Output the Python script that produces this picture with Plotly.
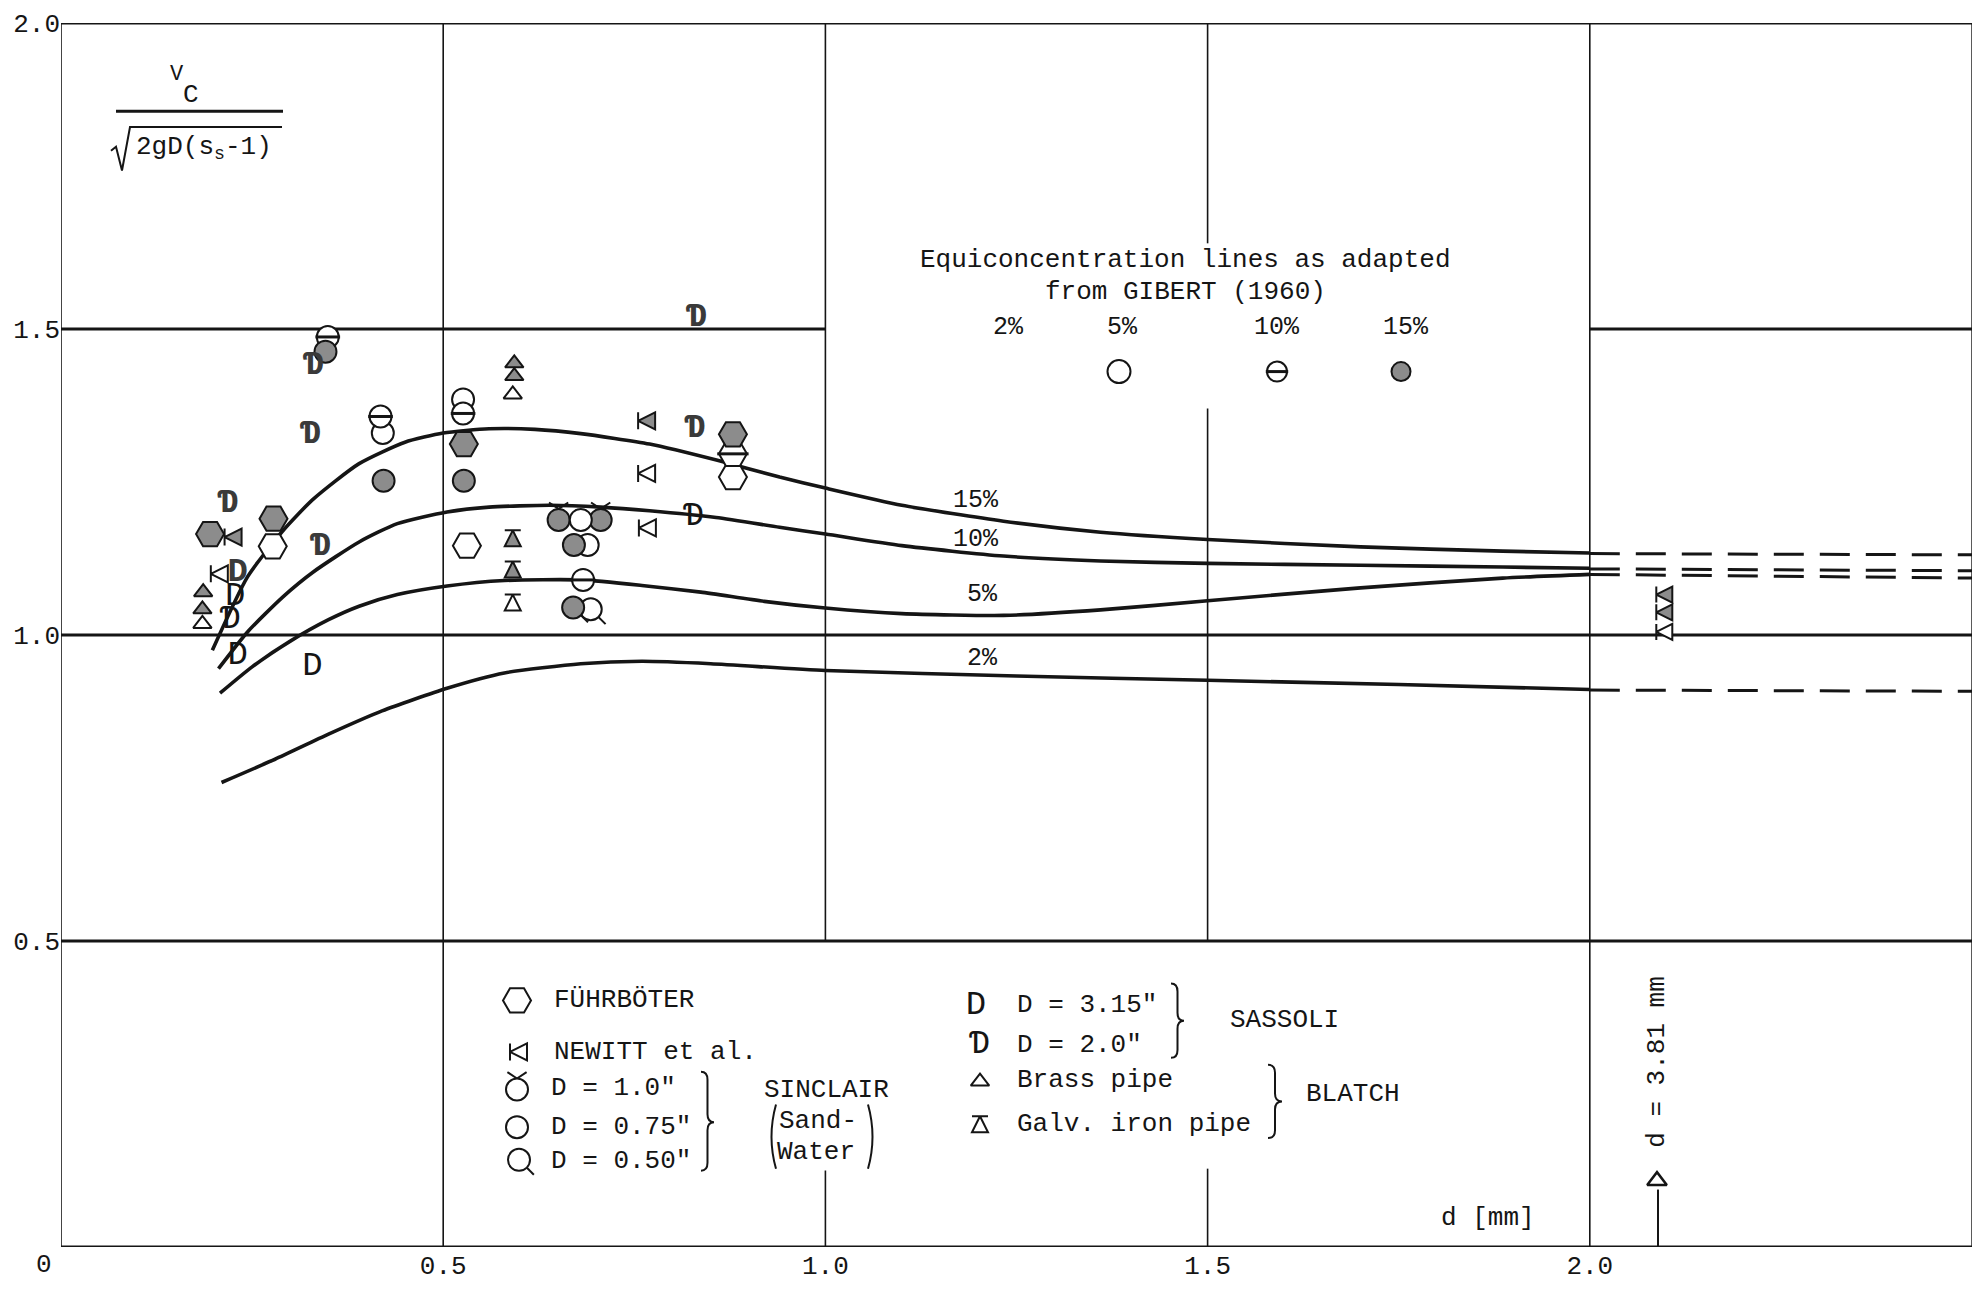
import plotly.graph_objects as go

# ---------------- data ----------------
# Equiconcentration curves (adapted from GIBERT 1960): d [mm] vs Vc/sqrt(2gD(s_s-1))
d_2 = [0.21, 0.28, 0.35, 0.42, 0.505, 0.58, 0.68, 0.76, 0.85, 1.0, 1.25, 1.5, 1.75, 2.0]
v_2 = [0.759, 0.797, 0.838, 0.876, 0.913, 0.938, 0.953, 0.957, 0.953, 0.942, 0.933, 0.926, 0.919, 0.911]
d_5 = [0.208, 0.25, 0.3, 0.35, 0.39, 0.44, 0.505, 0.58, 0.68, 0.76, 0.837, 0.92, 1.0, 1.1, 1.233, 1.36, 1.5, 1.7, 1.886, 2.0]
v_5 = [0.905, 0.948, 0.99, 1.025, 1.047, 1.066, 1.08, 1.089, 1.09, 1.081, 1.07, 1.055, 1.044, 1.035, 1.032, 1.041, 1.056, 1.077, 1.093, 1.099]
d_10 = [0.206, 0.244, 0.29, 0.33, 0.39, 0.44, 0.505, 0.56, 0.64, 0.706, 0.77, 0.857, 0.94, 1.0, 1.1, 1.233, 1.36, 1.5, 1.7, 1.886, 2.0]
v_10 = [0.945, 1.005, 1.062, 1.103, 1.152, 1.182, 1.201, 1.209, 1.212, 1.209, 1.203, 1.192, 1.176, 1.165, 1.146, 1.129, 1.121, 1.117, 1.114, 1.111, 1.109]
d_15 = [0.198, 0.244, 0.29, 0.33, 0.39, 0.45, 0.5, 0.56, 0.62, 0.68, 0.77, 0.86, 0.94, 1.0, 1.1, 1.233, 1.36, 1.5, 1.7, 1.886, 2.0]
v_15 = [0.975, 1.095, 1.17, 1.222, 1.28, 1.315, 1.33, 1.337, 1.336, 1.329, 1.312, 1.285, 1.258, 1.24, 1.212, 1.186, 1.168, 1.156, 1.144, 1.137, 1.134]
# dashed extrapolation beyond d = 2.0 mm
d_ext = [2.0, 2.5]
v_ext_2 = [0.910, 0.908]
v_ext_5 = [1.099, 1.093]
v_ext_10 = [1.108, 1.105]
v_ext_15 = [1.133, 1.131]
curve_labels = ["2%", "5%", "10%", "15%"]

# Data points: d [mm], V ratio, concentration class (5, 10, 15 %)
fuhr_d = [0.195, 0.278, 0.277, 0.527, 0.531, 0.879, 0.879, 0.879]
fuhr_v = [1.165, 1.19, 1.145, 1.312, 1.146, 1.328, 1.296, 1.258]
fuhr_c = [15, 15, 5, 15, 5, 15, 10, 5]

newitt_d = [0.214, 0.196, 0.755, 0.755, 0.756]
newitt_v = [1.16, 1.10, 1.35, 1.264, 1.175]
newitt_c = [15, 5, 15, 5, 5]

sinc100_d = [0.651, 0.706]
sinc100_v = [1.188, 1.188]
sinc100_c = [15, 15]

sinc075_d = [0.349, 0.346, 0.418, 0.421, 0.422, 0.526, 0.526, 0.527, 0.68, 0.671, 0.689, 0.683]
sinc075_v = [1.487, 1.463, 1.357, 1.33, 1.252, 1.385, 1.362, 1.252, 1.188, 1.147, 1.147, 1.09]
sinc075_c = [10, 15, 10, 5, 15, 5, 10, 15, 5, 15, 5, 10]

sinc050_d = [0.67, 0.693]
sinc050_v = [1.045, 1.042]
sinc050_c = [15, 5]

sass315_d = [0.231, 0.228, 0.231, 0.329]
sass315_v = [1.102, 1.063, 0.966, 0.948]
sass315_c = [15, 5, 5, 5]

sass200_d = [0.218, 0.222, 0.33, 0.326, 0.339, 0.831, 0.829, 0.828]
sass200_v = [1.215, 1.026, 1.44, 1.328, 1.144, 1.519, 1.338, 1.193]
sass200_c = [15, 5, 15, 15, 15, 15, 15, 5]

brass_d = [0.186, 0.185, 0.185, 0.593, 0.593, 0.591]
brass_v = [1.07, 1.042, 1.018, 1.444, 1.423, 1.393]
brass_c = [15, 15, 5, 15, 15, 5]

galv_d = [0.591, 0.591, 0.591]
galv_v = [1.171, 1.12, 1.066]
galv_c = [15, 15, 5]

# Blatch galv. iron pipe, d = 3.81 mm (drawn just right of 2.0)
galv381_d = [2.087, 2.087, 2.087]
galv381_v = [1.066, 1.037, 1.005]
galv381_c = [15, 15, 5]

x_ticks = [0.5, 1.0, 1.5, 2.0]
x_ticktext = ["0.5", "1.0", "1.5", "2.0"]
y_ticks = [0.5, 1.0, 1.5, 2.0]
y_ticktext = ["0.5", "1.0", "1.5", "2.0"]

# ---------------- layout geometry ----------------
W, H = 1982, 1292
ML, MR, MT, MB = 61, 10, 18, 38
XR = (0.0, 2.5)
YR = (0.0, 2.0)
PW = W - ML - MR
PH = H - MT - MB
FONT = "Liberation Mono, DejaVu Sans Mono, monospace"
INK = "#151515"
FILL15 = "#8c8c8c"


def px(X):
    return (X - ML) / PW


def py(Y):
    return (H - MB - Y) / PH


def dx(X):
    return XR[0] + (X - ML) / PW * (XR[1] - XR[0])


def dy(Y):
    return YR[0] + (H - MB - Y) / PH * (YR[1] - YR[0])


fig = go.Figure()
shapes = []
annotations = []

# ---------------- grid / frame ----------------
def seg(x0, y0, x1, y1, w):
    shapes.append(dict(type="line", xref="x", yref="y", x0=x0, y0=y0, x1=x1, y1=y1,
                       line=dict(color=INK, width=w), layer="below"))

seg(0, 2.0, 2.5, 2.0, 3)
seg(0, 0.0, 2.5, 0.0, 3)
seg(0, 1.0, 2.5, 1.0, 3)
seg(0, 0.5, 2.5, 0.5, 3)
seg(0, 1.5, 1.0, 1.5, 3)
seg(2.0, 1.5, 2.5, 1.5, 3)
seg(0, 0, 0, 2.0, 1.6)
seg(0.5, 0, 0.5, 2.0, 1.6)
seg(1.0, 0.5, 1.0, 2.0, 1.6)
seg(1.0, 0.0, 1.0, 0.125, 1.6)
seg(1.5, 1.64, 1.5, 2.0, 1.6)
seg(1.5, 0.5, 1.5, 1.37, 1.6)
seg(1.5, 0.0, 1.5, 0.128, 1.6)
seg(2.0, 0, 2.0, 2.0, 1.6)
seg(2.5, 0, 2.5, 2.0, 1.4)

# ---------------- curves ----------------
for xs, ys in [(d_2, v_2), (d_5, v_5), (d_10, v_10), (d_15, v_15)]:
    fig.add_trace(go.Scatter(x=xs, y=ys, mode="lines", hoverinfo="skip",
                             line=dict(color=INK, width=3.6, shape="spline", smoothing=0.6)))
for ys in [v_ext_2, v_ext_5, v_ext_10, v_ext_15]:
    fig.add_trace(go.Scatter(x=d_ext, y=ys, mode="lines", hoverinfo="skip",
                             line=dict(color=INK, width=3, dash="30px,16px")))

# curve labels
lab_pos = {"15%": (976, 500), "10%": (976, 540), "5%": (982, 595), "2%": (982, 660)}
for lab in curve_labels:
    X, Y = lab_pos[lab]
    annotations.append(dict(xref="paper", yref="paper", x=px(X), y=py(Y), text=lab, showarrow=False,
                            xanchor="center", yanchor="middle", font=dict(family=FONT, size=25, color=INK)))

# ---------------- markers ----------------
CIRC = 22


def add_marks(xs, ys, cs, kind):
    for c in (5, 10, 15):
        sx = [x for x, k in zip(xs, cs) if k == c]
        sy = [y for y, k in zip(ys, cs) if k == c]
        if not sx:
            continue
        fill = FILL15 if c == 15 else "white"
        if kind in ("D", "Dbar"):
            ch = "D" if kind == "D" else "Ɗ"
            txt = ["<b>%s</b>" % ch if c == 15 else ch] * len(sx)
            fig.add_trace(go.Scatter(x=sx, y=sy, mode="text", text=txt, hoverinfo="skip",
                                     textposition="middle center",
                                     textfont=dict(family=FONT, size=34,
                                                   color="#3a3a3a" if c == 15 else INK)))
            continue
        if kind == "circle_v":
            fig.add_trace(go.Scatter(x=sx, y=sy, mode="markers", hoverinfo="skip",
                                     marker=dict(symbol="y-up", size=16, angle=180, standoff=CIRC / 2,
                                                 line=dict(color=INK, width=2))))
        if kind == "circle_q":
            fig.add_trace(go.Scatter(x=sx, y=sy, mode="markers", hoverinfo="skip",
                                     marker=dict(symbol="line-ns", size=10, angle=-45, standoff=CIRC / 2 + 3,
                                                 line=dict(color=INK, width=2))))
        sym, size = {
            "hex": ("hexagon2", 28),
            "circle": ("circle", CIRC),
            "circle_v": ("circle", CIRC),
            "circle_q": ("circle", CIRC),
            "newitt": ("arrow-bar-left", 17),
            "brass": ("triangle-up", 16),
            "galv": ("arrow-bar-up", 16),
            "galv_side": ("arrow-bar-left", 16),
        }[kind]
        fig.add_trace(go.Scatter(x=sx, y=sy, mode="markers", hoverinfo="skip",
                                 marker=dict(symbol=sym, size=size, color=fill,
                                             line=dict(color=INK, width=2))))
        if c == 10:
            fig.add_trace(go.Scatter(x=sx, y=sy, mode="markers", hoverinfo="skip",
                                     marker=dict(symbol="line-ew", size=size * 0.8,
                                                 line=dict(color=INK, width=3))))


add_marks(fuhr_d, fuhr_v, fuhr_c, "hex")
add_marks(newitt_d, newitt_v, newitt_c, "newitt")
add_marks(sinc100_d, sinc100_v, sinc100_c, "circle_v")
add_marks(sinc075_d, sinc075_v, sinc075_c, "circle")
add_marks(sinc050_d, sinc050_v, sinc050_c, "circle_q")
add_marks(sass315_d, sass315_v, sass315_c, "D")
add_marks(sass200_d, sass200_v, sass200_c, "Dbar")
add_marks(brass_d, brass_v, brass_c, "brass")
add_marks(galv_d, galv_v, galv_c, "galv")
add_marks(galv381_d, galv381_v, galv381_c, "galv_side")

# ---------------- text helpers ----------------
def txt(X, Y, s, size=26, anchor="center", angle=0):
    annotations.append(dict(xref="paper", yref="paper", x=px(X), y=py(Y), text=s, showarrow=False,
                            xanchor=anchor, yanchor="middle", textangle=angle,
                            font=dict(family=FONT, size=size, color=INK)))


def pline(pts, w=2):
    path = "M" + " L".join("%.5f,%.5f" % (px(X), py(Y)) for X, Y in pts)
    shapes.append(dict(type="path", xref="paper", yref="paper", path=path,
                       line=dict(color=INK, width=w)))


def brace(X, Yt, Yb, w=13, Ym=None):
    if Ym is None:
        Ym = (Yt + Yb) / 2
    h = w / 2
    r = 8
    P = lambda X_, Y_: "%.5f,%.5f" % (px(X_), py(Y_))
    path = ("M" + P(X, Yt) + " Q" + P(X + h, Yt) + " " + P(X + h, Yt + r) +
            " L" + P(X + h, Ym - r) + " Q" + P(X + h, Ym) + " " + P(X + w, Ym) +
            " Q" + P(X + h, Ym) + " " + P(X + h, Ym + r) +
            " L" + P(X + h, Yb - r) + " Q" + P(X + h, Yb) + " " + P(X, Yb))
    shapes.append(dict(type="path", xref="paper", yref="paper", path=path,
                       line=dict(color=INK, width=2)))


def paren(X, Yt, Yb, left=True):
    bow = -9 if left else 9
    P = lambda X_, Y_: "%.5f,%.5f" % (px(X_), py(Y_))
    path = "M" + P(X, Yt) + " Q" + P(X + bow, (Yt + Yb) / 2) + " " + P(X, Yb)
    shapes.append(dict(type="path", xref="paper", yref="paper", path=path,
                       line=dict(color=INK, width=2)))


# y-axis quantity (fraction)
txt(177, 70, "V", size=22)
txt(191, 91, "C", size=26)
pline([(116, 107), (283, 107)], w=3)
pline([(111, 147), (116, 143), (122, 167), (130, 123), (282, 123)], w=2)
txt(134, 144, "2gD(s<sub>s</sub>-1)", size=26, anchor="left")

# origin label and axis label
txt(44, 1272, "0", size=26)
txt(1488, 1225, "d [mm]", size=26)

# legend of equiconcentration lines
txt(1185, 257, "Equiconcentration lines as adapted", size=26)
txt(1185, 290, "from GIBERT (1960)", size=26)
for lab, X in zip(curve_labels, [1008, 1122, 1277, 1406]):
    txt(X, 325, lab, size=25)
key_circ_x = [dx(1119), dx(1277), dx(1401)]
key_circ_y = dy(370)
fig.add_trace(go.Scatter(x=[key_circ_x[0]], y=[key_circ_y], mode="markers", hoverinfo="skip",
                         marker=dict(symbol="circle", size=23, color="white", line=dict(color=INK, width=2))))
fig.add_trace(go.Scatter(x=[key_circ_x[1]], y=[key_circ_y], mode="markers", hoverinfo="skip",
                         marker=dict(symbol="circle", size=20, color="white", line=dict(color=INK, width=2))))
fig.add_trace(go.Scatter(x=[key_circ_x[1]], y=[key_circ_y], mode="markers", hoverinfo="skip",
                         marker=dict(symbol="line-ew", size=16, line=dict(color=INK, width=3))))
fig.add_trace(go.Scatter(x=[key_circ_x[2]], y=[key_circ_y], mode="markers", hoverinfo="skip",
                         marker=dict(symbol="circle", size=19, color=FILL15, line=dict(color=INK, width=2))))

# symbol legend (keys)
add_marks([dx(517)], [dy(1005)], [5], "hex")
add_marks([dx(510)], [dy(1057)], [5], "newitt")
add_marks([dx(517)], [dy(1095)], [5], "circle_v")
add_marks([dx(517)], [dy(1133)], [5], "circle")
add_marks([dx(519)], [dy(1166)], [5], "circle_q")
add_marks([dx(976)], [dy(1010)], [5], "D")
add_marks([dx(980)], [dy(1050)], [5], "Dbar")
add_marks([dx(980)], [dy(1087)], [5], "brass")
add_marks([dx(980)], [dy(1122)], [5], "galv")

txt(552, 1005, "FÜHRBÖTER", anchor="left")
txt(552, 1057, "NEWITT et al.", anchor="left")
txt(549, 1093, 'D = 1.0"', anchor="left")
txt(549, 1133, 'D = 0.75"', anchor="left")
txt(549, 1167, 'D = 0.50"', anchor="left")
brace(701, 1077, 1177, w=13, Ym=1128)
txt(826, 1095, "SINCLAIR")
txt(818, 1127, "Sand-")
txt(816, 1158, "Water")
paren(776, 1110, 1175, left=True)
paren(868, 1110, 1175, left=False)

txt(1015, 1010, 'D = 3.15"', anchor="left")
txt(1015, 1050, 'D = 2.0"', anchor="left")
brace(1171, 988, 1063, w=13)
txt(1284, 1025, "SASSOLI")
txt(1015, 1085, "Brass pipe", anchor="left")
txt(1015, 1130, "Galv. iron pipe", anchor="left")
brace(1268, 1070, 1144, w=14)
txt(1353, 1100, "BLATCH")

# d = 3.81 mm marker note
txt(1657, 1067, "d = 3.81 mm", size=26, angle=-90)
fig.add_trace(go.Scatter(x=[dx(1657)], y=[dy(1187)], mode="markers", hoverinfo="skip",
                         marker=dict(symbol="triangle-up", size=17, color="white",
                                     line=dict(color=INK, width=2.5))))
pline([(1658, 1196), (1658, 1254)], w=2)

fig.update_layout(
    width=W, height=H,
    margin=dict(l=ML, r=MR, t=MT, b=MB, pad=0),
    paper_bgcolor="white", plot_bgcolor="white",
    showlegend=False,
    shapes=shapes,
    annotations=annotations,
    xaxis=dict(range=list(XR), showgrid=False, zeroline=False, showline=False,
               tickvals=x_ticks, ticktext=x_ticktext, ticks="",
               tickfont=dict(family=FONT, size=26, color=INK), fixedrange=True),
    yaxis=dict(range=list(YR), showgrid=False, zeroline=False, showline=False,
               tickvals=y_ticks, ticktext=y_ticktext, ticks="",
               tickfont=dict(family=FONT, size=26, color=INK), fixedrange=True),
)

fig.write_html("out.html")
